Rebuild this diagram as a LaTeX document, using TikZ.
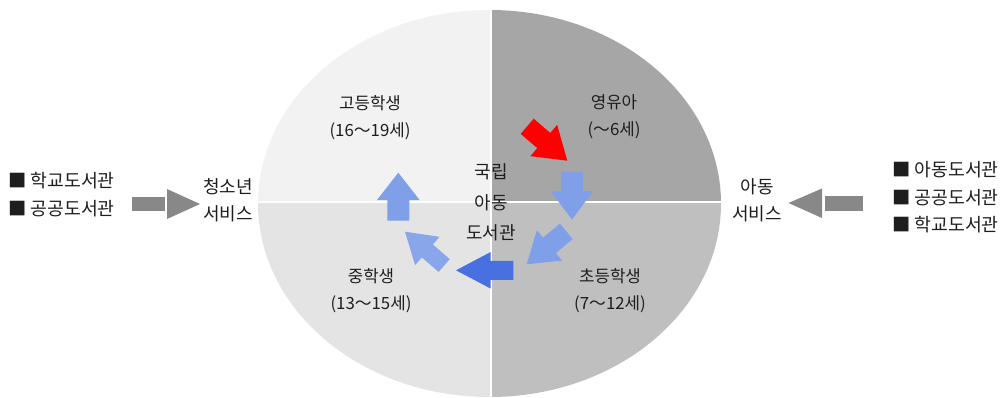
\documentclass[tikz,border=0pt]{standalone}
\usepackage{fontspec}
\setmainfont{Noto Sans CJK KR}
\usetikzlibrary{calc}
\definecolor{qtl}{RGB}{242,242,242}
\definecolor{qtr}{RGB}{166,166,166}
\definecolor{qbl}{RGB}{228,228,228}
\definecolor{qbr}{RGB}{191,191,191}
\definecolor{arlight}{RGB}{127,160,232}
\definecolor{arlight2}{RGB}{138,166,234}
\definecolor{ardark}{RGB}{72,112,224}
\definecolor{argray}{RGB}{136,136,136}
\definecolor{txt}{RGB}{30,30,30}
% #1 style, #2 tail, #3 tip, #4 shaft half width, #5 head half width, #6 head length
\newcommand\blockarr[6]{%
  \coordinate (bh) at ($(#3)!#6!(#2)$);
  \fill[#1] ($(#2)!#4!90:(#3)$) -- ($(bh)!#4!90:(#3)$) -- ($(bh)!#5!90:(#3)$) -- (#3)
    -- ($(bh)!#5!-90:(#3)$) -- ($(bh)!#4!-90:(#3)$) -- ($(#2)!#4!-90:(#3)$) -- cycle;}
\tikzset{
  lbl/.style={text=txt, align=center, font=\fontsize{16.8}{27}\selectfont, inner sep=0pt},
  bigl/.style={lbl, font=\fontsize{18}{27}\selectfont},
  ctr/.style={lbl, font=\fontsize{18}{30.5}\selectfont},
  lst/.style={text=txt, align=left, anchor=west, font=\fontsize{18.3}{27.5}\selectfont, inner sep=0pt},
}
\begin{document}
\begin{tikzpicture}[x=1pt,y=-1pt]
\useasboundingbox (0,0) rectangle (1004,397);
\fill[white] (0,0) rectangle (1004,397);
% ellipse quadrants
\begin{scope}
  \clip (489.5,203.5) ellipse [x radius=231.5pt, y radius=193.5pt];
  \fill[qtl] (250,0) rectangle (491,202);
  \fill[qtr] (491,0) rectangle (730,202);
  \fill[qbl] (250,202) rectangle (491,400);
  \fill[qbr] (491,202) rectangle (730,400);
  \draw[white, line width=2pt] (491,0) -- (491,400);
  \draw[white, line width=1.5pt] (250,202) -- (730,202);
\end{scope}
% cycle arrows
\coordinate (r0) at (527.2,126.3); \coordinate (r1) at (567.3,160.7);
\blockarr{red}{r0}{r1}{10pt}{20.6pt}{31pt}
\coordinate (d0) at (571.8,171.7); \coordinate (d1) at (572,219.5);
\blockarr{arlight}{d0}{d1}{11pt}{21.3pt}{28.3pt}
\coordinate (g0) at (566.3,231.3); \coordinate (g1) at (526.7,264.3);
\blockarr{arlight}{g0}{g1}{10pt}{19.7pt}{29.6pt}
\coordinate (l0) at (513.3,270.3); \coordinate (l1) at (456,270.3);
\blockarr{ardark}{l0}{l1}{9.5pt}{18.3pt}{34.7pt}
\coordinate (u0) at (444.2,265.5); \coordinate (u1) at (405,231.7);
\blockarr{arlight2}{u0}{u1}{8.5pt}{18.7pt}{29.5pt}
\coordinate (v0) at (398.3,220.7); \coordinate (v1) at (398.3,172.7);
\blockarr{arlight}{v0}{v1}{11pt}{21.3pt}{27.3pt}
% labels
\node[lbl] (high) at (370,117.5) {고등학생\\(16～19세)};
\node[lbl] (baby) at (614,116.5) {영유아\\(～6세)};
\node[ctr] (center) at (491,202.5) {국립\\아동\\도서관};
\node[lbl] (mid) at (371,291) {중학생\\(13～15세)};
\node[lbl] (elem) at (610,291) {초등학생\\(7～12세)};
\node[bigl] (youth) at (228,200.5) {청소년\\서비스};
\node[bigl] (child) at (757,200.5) {아동\\서비스};
% side lists
\node[lst] (leftlist) at (8,194.5) {■ 학교도서관\\■ 공공도서관};
\node[lst] (rightlist) at (892,197.5) {■ 아동도서관\\■ 공공도서관\\■ 학교도서관};
% gray arrows
\fill[argray] (132,196.5) rectangle (165,211);
\fill[argray] (167,189) -- (200,204) -- (167,219) -- cycle;
\fill[argray] (825,195.5) rectangle (862.5,210.5);
\fill[argray] (822,188.5) -- (788.5,203) -- (822,218) -- cycle;
\end{tikzpicture}
\end{document}
